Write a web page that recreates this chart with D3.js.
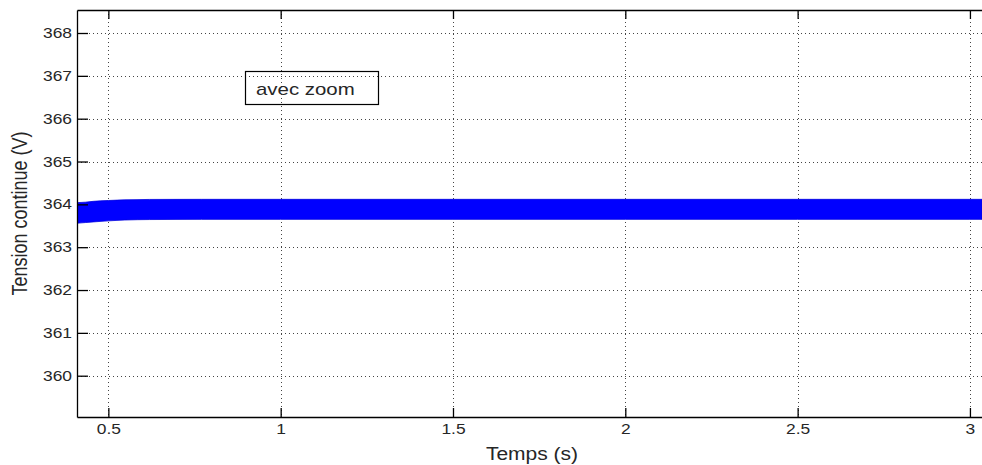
<!DOCTYPE html>
<html>
<head>
<meta charset="utf-8">
<script src="https://cdn.jsdelivr.net/npm/d3@7"></script>
<style>
  html, body { margin: 0; padding: 0; background: #fff; }
  svg { display: block; }
  text { font-family: "Liberation Sans", Arial, Helvetica, sans-serif; fill: #262626; }
</style>
</head>
<body>
<svg id="chart" width="982" height="465"></svg>
<script>
// DC-link voltage envelope (upper / lower ripple bounds) over time
const timeS  = [0.409, 0.433, 0.456, 0.50, 0.548, 0.62, 0.77, 1.0, 1.5, 2.0, 2.5, 3.0, 3.035];
const upperV = [364.04, 364.05, 364.07, 364.09, 364.105, 364.115, 364.117, 364.117, 364.117, 364.117, 364.117, 364.117, 364.117];
const lowerV = [363.56, 363.575, 363.59, 363.615, 363.635, 363.645, 363.65, 363.65, 363.65, 363.65, 363.65, 363.65, 363.65];

const xTicks = [0.5, 1, 1.5, 2, 2.5, 3];
const xTickLabels = ["0.5", "1", "1.5", "2", "2.5", "3"];
const yTicks = [360, 361, 362, 363, 364, 365, 366, 367, 368];
const yTickLabels = ["360", "361", "362", "363", "364", "365", "366", "367", "368"];

const xLabel = "Temps (s)";
const yLabel = "Tension continue (V)";
const noteText = "avec zoom";

const svg = d3.select("#chart");
const mLeft = 77, mRight = 982, mTop = 10, mBottom = 417;
const stretch = 1.2; // horizontal text stretch

const x = d3.scaleLinear().domain([0.409, 3.035]).range([mLeft, mRight]);
const y = d3.scaleLinear().domain([359.036, 368.537]).range([mBottom, mTop]);

svg.append("clipPath").attr("id", "plotclip")
  .append("rect").attr("x", mLeft).attr("y", mTop).attr("width", mRight - mLeft).attr("height", mBottom - mTop);

// grid
const grid = svg.append("g").attr("stroke", "#444").attr("stroke-width", 1)
  .attr("stroke-dasharray", "1,3").attr("shape-rendering", "crispEdges");
grid.selectAll("line.gx").data(xTicks).join("line").attr("class", "gx")
  .attr("x1", d => Math.round(x(d)) + 0.5).attr("x2", d => Math.round(x(d)) + 0.5)
  .attr("y1", mTop).attr("y2", mBottom);
grid.selectAll("line.gy").data(yTicks).join("line").attr("class", "gy")
  .attr("y1", d => Math.round(y(d)) + 0.5).attr("y2", d => Math.round(y(d)) + 0.5)
  .attr("x1", mLeft).attr("x2", mRight);

// envelope band
const band = d3.area()
  .x((d, i) => x(timeS[i]))
  .y0((d, i) => y(lowerV[i]))
  .y1((d, i) => y(upperV[i]))
  .curve(d3.curveMonotoneX);
svg.append("path")
  .attr("clip-path", "url(#plotclip)")
  .attr("d", band(timeS))
  .attr("fill", "#0000ff")
  .attr("stroke", "#0000e0")
  .attr("stroke-width", 0.8);

// axes (inward ticks)
const xAxisB = d3.axisBottom(x).tickValues(xTicks).tickFormat((d, i) => xTickLabels[i])
  .tickSizeInner(-9).tickSizeOuter(0).tickPadding(7);
const xAxisT = d3.axisTop(x).tickValues(xTicks).tickFormat("")
  .tickSizeInner(-9).tickSizeOuter(0);
const yAxisL = d3.axisLeft(y).tickValues(yTicks).tickFormat((d, i) => yTickLabels[i])
  .tickSizeInner(-11).tickSizeOuter(0).tickPadding(5);

function styleAxis(g) {
  g.select(".domain").attr("stroke", "#000").attr("stroke-width", 1.3);
  g.selectAll(".tick line").attr("stroke", "#000").attr("stroke-width", 1.3);
  g.selectAll(".tick text").attr("font-size", 14.5).attr("fill", "#262626")
    .attr("font-family", "Liberation Sans, Arial, sans-serif");
}
svg.append("g").attr("transform", `translate(0,${mBottom})`).call(xAxisB).call(styleAxis);
svg.append("g").attr("transform", `translate(0,${mTop})`).call(xAxisT).call(styleAxis);
svg.append("g").attr("transform", `translate(${mLeft},0)`).call(yAxisL).call(styleAxis);

// axis titles
svg.append("text").attr("class", "stretch")
  .attr("x", 532).attr("y", 460).attr("text-anchor", "middle")
  .attr("font-size", 17.5).text(xLabel);
svg.append("text")
  .attr("transform", `translate(27,${(mTop + mBottom) / 2}) scale(${stretch},1) rotate(-90)`)
  .attr("text-anchor", "middle").attr("font-size", 18).text(yLabel);

// annotation box
const note = svg.append("g");
note.append("rect").attr("x", 245.5).attr("y", 71.5).attr("width", 133).attr("height", 33)
  .attr("fill", "none").attr("stroke", "#000").attr("stroke-width", 1.2);
note.append("text").attr("class", "stretch").attr("x", 256).attr("y", 95)
  .attr("font-size", 17).text(noteText);

// widen horizontal text glyphs
svg.selectAll(".tick text, text.stretch").each(function () {
  const w = this.getComputedTextLength();
  if (w > 0) {
    d3.select(this).attr("textLength", w * stretch).attr("lengthAdjust", "spacingAndGlyphs");
  }
});
</script>
</body>
</html>
